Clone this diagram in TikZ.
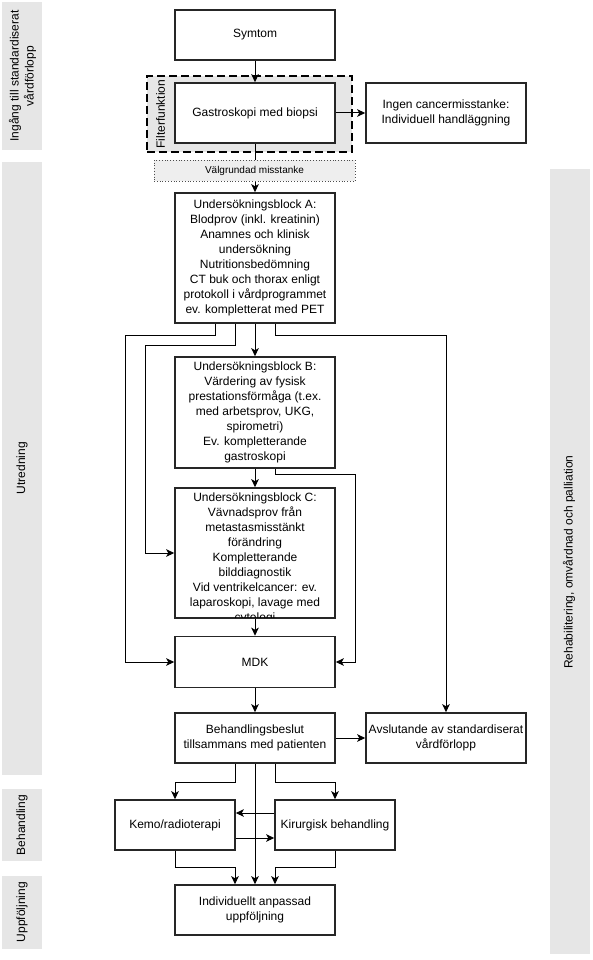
\documentclass[tikz,border=0pt]{standalone}
\usepackage{fontspec}
\setmainfont{Liberation Sans}
\usetikzlibrary{arrows.meta,calc}
\definecolor{lanegray}{HTML}{E6E6E6}
\definecolor{dotgray}{HTML}{EEEEEE}
\begin{document}
\begin{tikzpicture}[x=1pt,y=-1pt,
  lane/.style={fill=lanegray,draw=none},
  lanetxt/.style={rotate=90,align=center,font=\fontsize{12}{15}\selectfont,inner sep=0pt},
  box/.style={draw=black!85,line width=1.6pt,fill=white,minimum width=160pt,minimum height=50pt,align=center,inner sep=0pt,font=\fontsize{12}{15}\selectfont},
  sbox/.style={box,minimum width=120pt},
  txt/.style={align=center,inner sep=0pt,font=\fontsize{12}{15}\selectfont},
  arr/.style={line width=1pt,-{Stealth[length=8pt,width=7.5pt,inset=2pt]}},
  ln/.style={line width=1pt}]
\useasboundingbox (0,0) rectangle (592,960);
% lanes
\fill[lane] (2,2) rectangle (42,150);
\fill[lane] (2,162) rectangle (42,775);
\fill[lane] (2,789) rectangle (42,861);
\fill[lane] (2,876) rectangle (42,949);
\fill[lane] (550,169) rectangle (590,954);
\node[lanetxt] (l1) at (22.5,76) {Ingång till standardiserat\\vårdförlopp};
\node[lanetxt] (l2) at (22,468) {Utredning};
\node[lanetxt] (l3) at (22,825) {Behandling};
\node[lanetxt] (l4) at (22,912) {Uppföljning};
\node[lanetxt] (l5) at (569,562) {Rehabilitering, omvårdnad och palliation};
% filter box
\node[draw=black,fill=lanegray,line width=2.2pt,dash pattern=on 8pt off 4pt,minimum width=205pt,minimum height=76pt,inner sep=0pt] (F) at (249.5,114) {};
\node[lanetxt] (ft) at (160.5,114) {Filterfunktion};
% boxes
\node[box] (S) at (255,35) {Symtom};
\node[box,minimum height=60pt] (G) at (255,113) {Gastroskopi med biopsi};
\node[box,minimum height=60pt] (I) at (446,113) {Ingen cancermisstanke:\\Individuell handläggning};
\node[box,minimum height=130pt] (A) at (255,258) {Undersökningsblock A:\\Blodprov (inkl. kreatinin)\\Anamnes och klinisk\\undersökning\\Nutritionsbedömning\\CT buk och thorax enligt\\protokoll i vårdprogrammet\\ev. kompletterat med PET};
\node[box,minimum height=111pt] (B) at (255,412.5) {Undersökningsblock B:\\Värdering av fysisk\\prestationsförmåga (t.ex.\\med arbetsprov, UKG,\\spirometri)\\Ev. kompletterande\\gastroskopi};
\node[box,minimum height=130pt] (C) at (255,553) {};
\begin{scope}
\clip ([shift={(1pt,-1pt)}]C.north west) rectangle ([shift={(-1pt,1pt)}]C.south east);
\node[txt,anchor=north] (Ct) at ([yshift=-5.5pt]C.north) {Undersökningsblock C:\\Vävnadsprov från\\metastasmisstänkt\\förändring\\Kompletterande\\bilddiagnostik\\Vid ventrikelcancer: ev.\\laparoskopi, lavage med\\cytologi};
\end{scope}
\node[box,minimum height=51pt] (M) at (255,662) {MDK};
\node[box] (Be) at (255,738) {Behandlingsbeslut\\tillsammans med patienten};
\node[box] (Av) at (446,738) {Avslutande av standardiserat\\vårdförlopp};
\node[sbox] (K) at (175,825) {Kemo/radioterapi};
\node[sbox] (Ki) at (335,825) {Kirurgisk behandling};
\node[box] (U) at (255,910) {Individuellt anpassad\\uppföljning};
% connectors
\draw[arr] (S.south) -- (G.north);
\draw[arr] (G.east) -- (I.west);
\draw[arr] (G.south) -- (A.north);
\draw[arr] (A.south) -- (B.north);
\draw[arr] ([xshift=-40pt]A.south) |- (125,335) |- (M.west);
\draw[arr] ([xshift=-20pt]A.south) |- (145,345) |- (C.west);
\draw[arr] ([xshift=20pt]A.south) -- ++(0,12) -| (Av.north);
\draw[arr] (B.south) -- (C.north);
\draw[arr] ([xshift=20pt]B.south) |- (355,474) |- (M.east);
\draw[arr] (C.south) -- (M.north);
\draw[arr] (M.south) -- (Be.north);
\draw[arr] (Be.east) -- (Av.west);
\draw[arr] ([xshift=-20pt]Be.south) -- ++(0,19) -| (K.north);
\draw[arr] ([xshift=20pt]Be.south) -- ++(0,19) -| (Ki.north);
\draw[arr] (Be.south) -- (U.north);
\draw[arr] ([yshift=12pt]Ki.west) -- ([yshift=12pt]K.east);
\draw[arr] ([yshift=-13pt]K.east) -- ([yshift=-13pt]Ki.west);
\draw[arr] (K.south) -- ++(0,17) -| ([xshift=-20pt]U.north);
\draw[arr] (Ki.south) -- ++(0,17) -| ([xshift=20pt]U.north);
% valgrundad misstanke
\node[draw=black!70,dotted,fill=dotgray,line width=0.8pt,minimum width=201pt,minimum height=21pt,inner sep=0pt,font=\fontsize{10}{12}\selectfont] (V) at (254.5,170.5) {Välgrundad misstanke};
\end{tikzpicture}
\end{document}
